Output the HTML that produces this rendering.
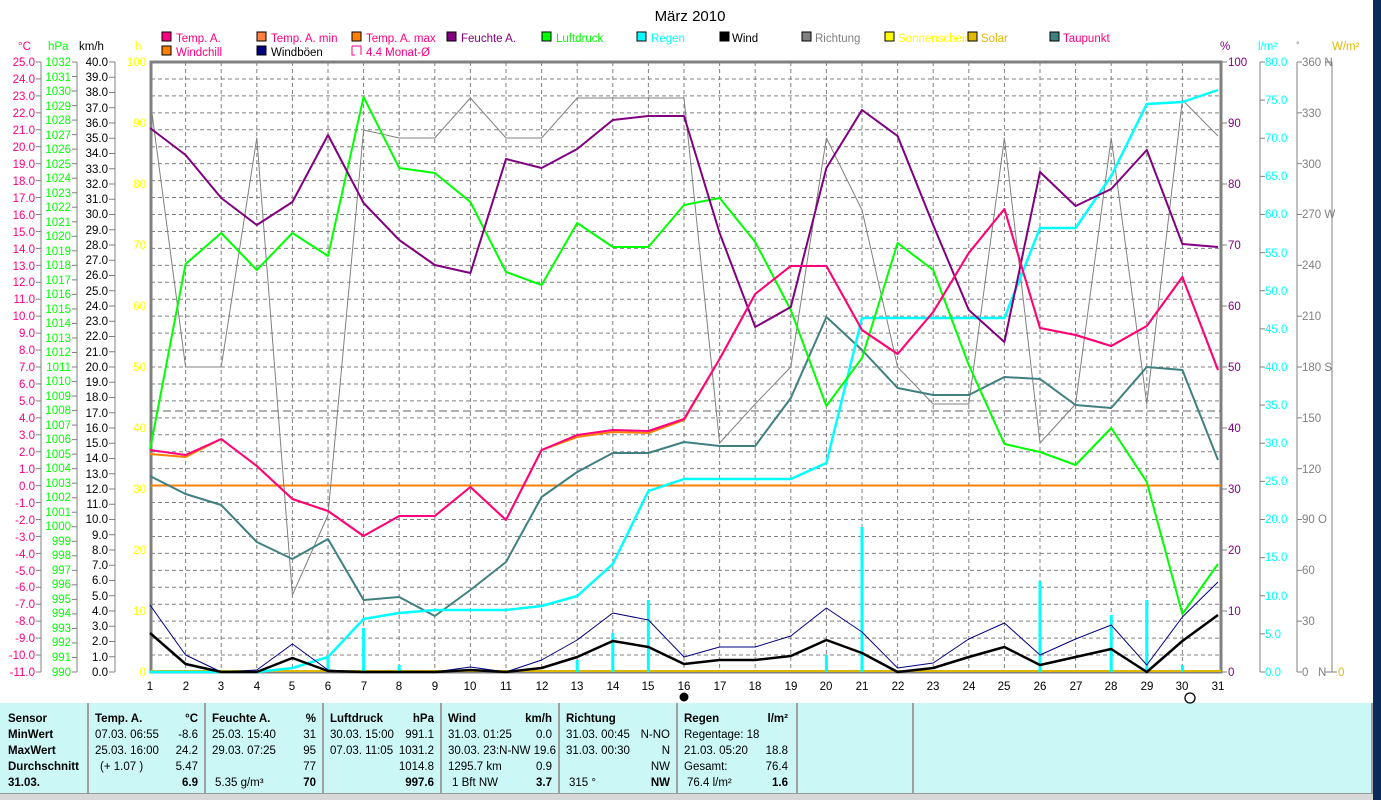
<!DOCTYPE html>
<html><head><meta charset="utf-8"><style>
html,body{margin:0;padding:0;background:#fff}
svg{display:block;font-family:"Liberation Sans",sans-serif;font-size:11.5px}
.b{font-weight:bold}
</style></head><body>
<svg id="s" width="1381" height="800" xmlns="http://www.w3.org/2000/svg">
<rect x="1373" y="0" width="8" height="800" fill="#0a2a5a"/>
<text x="690" y="21" font-size="15" text-anchor="middle">März 2010</text>
<g font-size="11.5">
<rect x="162" y="32" width="9" height="9" fill="#ff0080" stroke="#000"/><text x="176" y="42" fill="#ff0080">Temp. A.</text>
<rect x="257" y="32" width="9" height="9" fill="#ff8040" stroke="#000"/><text x="271" y="42" fill="#ff0080">Temp. A. min</text>
<rect x="352" y="32" width="9" height="9" fill="#ff8000" stroke="#000"/><text x="366" y="42" fill="#ff0080">Temp. A. max</text>
<rect x="447" y="32" width="9" height="9" fill="#800080" stroke="#000"/><text x="461" y="42" fill="#800080">Feuchte A.</text>
<rect x="542" y="32" width="9" height="9" fill="#00ff00" stroke="#000"/><text x="556" y="42" fill="#00ff00">Luftdruck</text>
<rect x="637" y="32" width="9" height="9" fill="#00ffff" stroke="#000"/><text x="651" y="42" fill="#00ffff">Regen</text>
<rect x="720" y="32" width="9" height="9" fill="#000" stroke="#000"/><text x="732" y="42" fill="#000">Wind</text>
<rect x="802" y="32" width="9" height="9" fill="#808080" stroke="#000"/><text x="815" y="42" fill="#808080">Richtung</text>
<rect x="885" y="32" width="9" height="9" fill="#ffff00" stroke="#000"/><text x="898" y="42" fill="#ffff00">Sonnenschein</text>
<rect x="968" y="32" width="9" height="9" fill="#e0b800" stroke="#000"/><text x="981" y="42" fill="#e0b800">Solar</text>
<rect x="1050" y="32" width="9" height="9" fill="#408080" stroke="#000"/><text x="1063" y="42" fill="#ff0080">Taupunkt</text>
<rect x="162" y="46" width="9" height="9" fill="#ff8000" stroke="#000"/><text x="176" y="56" fill="#ff0080">Windchill</text>
<rect x="257" y="46" width="9" height="9" fill="#000080" stroke="#000"/><text x="271" y="56" fill="#000">Windböen</text>
<path d="M352 46h9v9M352 46v9h3" fill="none" stroke="#ff0080"/><text x="366" y="56" fill="#ff0080">4.4 Monat-Ø</text>
</g>
<text x="18" y="50" fill="#ff0080">°C</text>
<text x="48" y="50" fill="#00ff00">hPa</text>
<text x="79" y="50" fill="#000">km/h</text>
<text x="135" y="50" fill="#ffff00">h</text>
<text x="1220" y="50" fill="#800080">%</text>
<text x="1258" y="50" fill="#00ffff">l/m²</text>
<text x="1296" y="48" fill="#808080" font-size="9">°</text>
<text x="1332" y="50" fill="#e0b800">W/m²</text>
<g id="axes"></g>
<g id="plot"></g>
<rect x="0" y="703" width="1373" height="90" fill="#ccf7f7"/>
<rect x="0" y="793" width="1373" height="7" fill="#d8d8d8"/>
<line x1="0" y1="793.5" x2="1373" y2="793.5" stroke="#999"/>
<g stroke="#a0a0a0" stroke-width="2">
<line x1="88" y1="703" x2="88" y2="793"/><line x1="205" y1="703" x2="205" y2="793"/><line x1="323" y1="703" x2="323" y2="793"/><line x1="441" y1="703" x2="441" y2="793"/><line x1="559" y1="703" x2="559" y2="793"/><line x1="677" y1="703" x2="677" y2="793"/><line x1="797" y1="703" x2="797" y2="793"/><line x1="913" y1="703" x2="913" y2="793"/><line x1="1372" y1="703" x2="1372" y2="793"/>
</g>
<g font-size="11.5">
<text x="8" y="722" class="b">Sensor</text><text x="8" y="738" class="b">MinWert</text><text x="8" y="754" class="b">MaxWert</text><text x="8" y="770" class="b">Durchschnitt</text><text x="8" y="786" class="b">31.03.</text>
<text x="95" y="722" class="b">Temp. A.</text><text x="198" y="722" class="b" text-anchor="end">°C</text>
<text x="95" y="738">07.03.  06:55</text><text x="198" y="738" text-anchor="end">-8.6</text>
<text x="95" y="754">25.03.  16:00</text><text x="198" y="754" text-anchor="end">24.2</text>
<text x="100" y="770">(+ 1.07 )</text><text x="198" y="770" text-anchor="end">5.47</text>
<text x="198" y="786" text-anchor="end" class="b">6.9</text>
<text x="212" y="722" class="b">Feuchte A.</text><text x="316" y="722" class="b" text-anchor="end">%</text>
<text x="212" y="738">25.03.  15:40</text><text x="316" y="738" text-anchor="end">31</text>
<text x="212" y="754">29.03.  07:25</text><text x="316" y="754" text-anchor="end">95</text>
<text x="316" y="770" text-anchor="end">77</text>
<text x="215" y="786">5.35 g/m³</text><text x="316" y="786" text-anchor="end" class="b">70</text>
<text x="330" y="722" class="b">Luftdruck</text><text x="434" y="722" class="b" text-anchor="end">hPa</text>
<text x="330" y="738">30.03.  15:00</text><text x="434" y="738" text-anchor="end">991.1</text>
<text x="330" y="754">07.03.  11:05</text><text x="434" y="754" text-anchor="end">1031.2</text>
<text x="434" y="770" text-anchor="end">1014.8</text>
<text x="434" y="786" text-anchor="end" class="b">997.6</text>
<text x="448" y="722" class="b">Wind</text><text x="552" y="722" class="b" text-anchor="end">km/h</text>
<text x="448" y="738">31.03.  01:25</text><text x="552" y="738" text-anchor="end">0.0</text>
<text x="448" y="754">30.03.  23:N-NW 19.6</text>
<text x="448" y="770">1295.7 km</text><text x="552" y="770" text-anchor="end">0.9</text>
<text x="452" y="786">1 Bft NW</text><text x="552" y="786" text-anchor="end" class="b">3.7</text>
<text x="566" y="722" class="b">Richtung</text>
<text x="566" y="738">31.03.  00:45</text><text x="670" y="738" text-anchor="end">N-NO</text>
<text x="566" y="754">31.03.  00:30</text><text x="670" y="754" text-anchor="end">N</text>
<text x="670" y="770" text-anchor="end">NW</text>
<text x="569" y="786">315 °</text><text x="670" y="786" text-anchor="end" class="b">NW</text>
<text x="684" y="722" class="b">Regen</text><text x="788" y="722" class="b" text-anchor="end">l/m²</text>
<text x="684" y="738">Regentage: 18</text>
<text x="684" y="754">21.03.  05:20</text><text x="788" y="754" text-anchor="end">18.8</text>
<text x="684" y="770">Gesamt:</text><text x="788" y="770" text-anchor="end">76.4</text>
<text x="687" y="786">76.4 l/m²</text><text x="788" y="786" text-anchor="end" class="b">1.6</text>
</g>
<g id="lab" font-size="11.5">
<g fill="#ff0080" text-anchor="end">
<text x="35" y="66">25.0</text><text x="35" y="83">24.0</text><text x="35" y="100">23.0</text><text x="35" y="117">22.0</text><text x="35" y="134">21.0</text><text x="35" y="151">20.0</text><text x="35" y="168">19.0</text><text x="35" y="185">18.0</text><text x="35" y="202">17.0</text><text x="35" y="219">16.0</text><text x="35" y="236">15.0</text><text x="35" y="253">14.0</text><text x="35" y="270">13.0</text><text x="35" y="286">12.0</text><text x="35" y="303">11.0</text><text x="35" y="320">10.0</text><text x="35" y="337">9.0</text><text x="35" y="354">8.0</text><text x="35" y="371">7.0</text><text x="35" y="388">6.0</text><text x="35" y="405">5.0</text><text x="35" y="422">4.0</text><text x="35" y="439">3.0</text><text x="35" y="456">2.0</text><text x="35" y="473">1.0</text><text x="35" y="490">0.0</text><text x="35" y="507">-1.0</text><text x="35" y="524">-2.0</text><text x="35" y="541">-3.0</text><text x="35" y="558">-4.0</text><text x="35" y="575">-5.0</text><text x="35" y="591">-6.0</text><text x="35" y="608">-7.0</text><text x="35" y="625">-8.0</text><text x="35" y="642">-9.0</text><text x="35" y="659">-10.0</text><text x="35" y="676">-11.0</text>
</g>
<g fill="#00ff00" text-anchor="end">
<text x="71" y="66">1032</text><text x="71" y="81">1031</text><text x="71" y="95">1030</text><text x="71" y="110">1029</text><text x="71" y="124">1028</text><text x="71" y="139">1027</text><text x="71" y="153">1026</text><text x="71" y="168">1025</text><text x="71" y="182">1024</text><text x="71" y="197">1023</text><text x="71" y="211">1022</text><text x="71" y="226">1021</text><text x="71" y="240">1020</text><text x="71" y="255">1019</text><text x="71" y="269">1018</text><text x="71" y="284">1017</text><text x="71" y="298">1016</text><text x="71" y="313">1015</text><text x="71" y="327">1014</text><text x="71" y="342">1013</text><text x="71" y="356">1012</text><text x="71" y="371">1011</text><text x="71" y="385">1010</text><text x="71" y="400">1009</text><text x="71" y="414">1008</text><text x="71" y="429">1007</text><text x="71" y="443">1006</text><text x="71" y="458">1005</text><text x="71" y="472">1004</text><text x="71" y="487">1003</text><text x="71" y="501">1002</text><text x="71" y="516">1001</text><text x="71" y="530">1000</text><text x="71" y="545">999</text><text x="71" y="559">998</text><text x="71" y="574">997</text><text x="71" y="588">996</text><text x="71" y="603">995</text><text x="71" y="617">994</text><text x="71" y="632">993</text><text x="71" y="646">992</text><text x="71" y="661">991</text><text x="71" y="676">990</text>
</g>
<g fill="#000" text-anchor="end">
<text x="108" y="66">40.0</text><text x="108" y="81">39.0</text><text x="108" y="96">38.0</text><text x="108" y="112">37.0</text><text x="108" y="127">36.0</text><text x="108" y="142">35.0</text><text x="108" y="157">34.0</text><text x="108" y="173">33.0</text><text x="108" y="188">32.0</text><text x="108" y="203">31.0</text><text x="108" y="218">30.0</text><text x="108" y="234">29.0</text><text x="108" y="249">28.0</text><text x="108" y="264">27.0</text><text x="108" y="279">26.0</text><text x="108" y="295">25.0</text><text x="108" y="310">24.0</text><text x="108" y="325">23.0</text><text x="108" y="340">22.0</text><text x="108" y="356">21.0</text><text x="108" y="371">20.0</text><text x="108" y="386">19.0</text><text x="108" y="401">18.0</text><text x="108" y="417">17.0</text><text x="108" y="432">16.0</text><text x="108" y="447">15.0</text><text x="108" y="462">14.0</text><text x="108" y="478">13.0</text><text x="108" y="493">12.0</text><text x="108" y="508">11.0</text><text x="108" y="523">10.0</text><text x="108" y="539">9.0</text><text x="108" y="554">8.0</text><text x="108" y="569">7.0</text><text x="108" y="584">6.0</text><text x="108" y="600">5.0</text><text x="108" y="615">4.0</text><text x="108" y="630">3.0</text><text x="108" y="645">2.0</text><text x="108" y="661">1.0</text><text x="108" y="676">0.0</text>
</g>
<g fill="#ffff00" text-anchor="end">
<text x="146" y="66">100</text><text x="146" y="127">90</text><text x="146" y="188">80</text><text x="146" y="249">70</text><text x="146" y="310">60</text><text x="146" y="371">50</text><text x="146" y="432">40</text><text x="146" y="493">30</text><text x="146" y="554">20</text><text x="146" y="615">10</text><text x="146" y="676">0</text>
</g>
<g fill="#800080">
<text x="1228" y="66">100</text><text x="1228" y="127">90</text><text x="1228" y="188">80</text><text x="1228" y="249">70</text><text x="1228" y="310">60</text><text x="1228" y="371">50</text><text x="1228" y="432">40</text><text x="1228" y="493">30</text><text x="1228" y="554">20</text><text x="1228" y="615">10</text><text x="1228" y="676">0</text>
</g>
<g fill="#00ffff">
<text x="1265" y="66">80.0</text><text x="1265" y="104">75.0</text><text x="1265" y="142">70.0</text><text x="1265" y="180">65.0</text><text x="1265" y="218">60.0</text><text x="1265" y="257">55.0</text><text x="1265" y="295">50.0</text><text x="1265" y="333">45.0</text><text x="1265" y="371">40.0</text><text x="1265" y="409">35.0</text><text x="1265" y="447">30.0</text><text x="1265" y="485">25.0</text><text x="1265" y="523">20.0</text><text x="1265" y="561">15.0</text><text x="1265" y="600">10.0</text><text x="1265" y="638">5.0</text><text x="1265" y="676">0.0</text>
</g>
<g fill="#808080">
<text x="1302" y="66">360 N</text><text x="1302" y="117">330</text><text x="1302" y="168">300</text><text x="1302" y="218">270 W</text><text x="1302" y="269">240</text><text x="1302" y="320">210</text><text x="1302" y="371">180 S</text><text x="1302" y="422">150</text><text x="1302" y="473">120</text><text x="1302" y="523">90 O</text><text x="1302" y="574">60</text><text x="1302" y="625">30</text><text x="1302" y="676">0</text><text x="1318" y="676">N</text>
</g>
<text x="1338" y="676" fill="#e0b800">0</text>
<g fill="#000" text-anchor="middle">
<text x="150" y="690">1</text><text x="186" y="690">2</text><text x="221" y="690">3</text><text x="257" y="690">4</text><text x="292" y="690">5</text><text x="328" y="690">6</text><text x="364" y="690">7</text><text x="399" y="690">8</text><text x="435" y="690">9</text><text x="470" y="690">10</text><text x="506" y="690">11</text><text x="542" y="690">12</text><text x="577" y="690">13</text><text x="613" y="690">14</text><text x="648" y="690">15</text><text x="684" y="690">16</text><text x="720" y="690">17</text><text x="755" y="690">18</text><text x="791" y="690">19</text><text x="826" y="690">20</text><text x="862" y="690">21</text><text x="898" y="690">22</text><text x="933" y="690">23</text><text x="969" y="690">24</text><text x="1004" y="690">25</text><text x="1040" y="690">26</text><text x="1076" y="690">27</text><text x="1111" y="690">28</text><text x="1147" y="690">29</text><text x="1182" y="690">30</text><text x="1218" y="690">31</text>
</g>
</g>
<circle cx="684" cy="697" r="4.5" fill="#000"/>
<circle cx="1190" cy="698" r="5" fill="none" stroke="#000" stroke-width="1.3"/>
</svg>
<script>
var NS="http://www.w3.org/2000/svg";
var A=document.getElementById("axes"),P=document.getElementById("plot");
function el(p,t,a){var e=document.createElementNS(NS,t);for(var k in a)e.setAttribute(k,a[k]);p.appendChild(e);return e;}
function X(d){return 150+(d-1)*35.6;}
for(var i=1;i<36;i++){var y=62+i*610/36;el(A,"line",{x1:151,x2:1221,y1:y,y2:y,stroke:"#808080","stroke-dasharray":"4,3"});}
for(var d=2;d<31;d++){el(A,"line",{x1:X(d),x2:X(d),y1:62,y2:672,stroke:"#808080","stroke-dasharray":"4,3"});}
function axis(x,n,y0,y1,tl,tr){el(A,"line",{x1:x,x2:x,y1:y0,y2:y1,stroke:"#808080"});for(var i=0;i<=n;i++){var y=y0+i*(y1-y0)/n;el(A,"line",{x1:x-tl,x2:x+tr,y1:y,y2:y,stroke:"#808080"});}}
axis(41,36,62,672,5,0);axis(77,42,62,672,5,0);axis(115,40,62,672,6,0);
axis(1260,16,62,672,0,5);axis(1297,12,62,672,0,5);
for(var i=0;i<=10;i++){var y=62+i*61;el(A,"line",{x1:1221,x2:1227,y1:y,y2:y,stroke:"#808080"});}
el(A,"line",{x1:1332,x2:1332,y1:62,y2:672,stroke:"#808080"});
el(A,"line",{x1:1325,x2:1337,y1:672,y2:672,stroke:"#808080"});
el(A,"line",{x1:1325,x2:1332,y1:62,y2:62,stroke:"#808080"});
el(A,"rect",{x:151,y:62,width:1070,height:610,fill:"none",stroke:"#808080","stroke-width":3});
el(P,"line",{x1:151,x2:1221,y1:411,y2:411,stroke:"#606060","stroke-dasharray":"8,4"});
el(P,"line",{x1:151,x2:1221,y1:485.5,y2:485.5,stroke:"#ff8000","stroke-width":2});
el(P,"line",{x1:151,x2:1221,y1:671,y2:671,stroke:"#e0b800","stroke-width":2});
[[6,657],[7,628],[8,665],[13,660],[14,633],[15,600],[20,655],[21,527],[26,581],[28,615],[29,600],[30,665]].forEach(function(b){el(P,"rect",{x:X(b[0])-1.5,y:b[1],width:3,height:672-b[1],fill:"#00ffff"});});
function line(v,c,w){var s=v.map(function(y,i){return X(i+1)+","+y;}).join(" ");el(P,"polyline",{points:s,fill:"none",stroke:c,"stroke-width":w,"stroke-linejoin":"round"});}
line([98,367,367,138,595,515,130,138,138,98,138,138,98,98,98,98,443,404,367,138,210,367,404,404,138,443,404,138,404,100,136],"#808080",1);
line([476,494,505,542,559,539,600,597,616,590,562,497,472,453,453,442,446,446,398,317,350,388,395,395,377,379,405,408,367,370,460],"#408080",2);
line([672,672,672,672,668,657,619,613,610,610,610,606,596,564,491,479,479,479,479,463,318,318,318,318,318,228,228,176,104,102,90],"#00ffff",2.5);
line([605,655,672,670,644,670,672,672,672,667,672,660,640,613,620,657,647,647,636,608,632,668,663,639,623,655,639,625,665,617,582],"#000080",1);
line([633,664,672,672,658,671,672,672,672,670,672,668,657,641,647,664,660,660,656,640,653,672,668,657,647,665,657,649,672,641,615],"#000",2.5);
line([450,264,233,270,233,256,97,168,173,202,272,285,223,247,247,205,198,242,310,406,358,243,270,365,444,452,465,428,482,614,564],"#00ff00",2);
line([128,155,198,225,202,135,203,240,265,273,159,168,149,120,116,116,233,327,307,168,110,136,225,310,342,172,206,189,150,244,247],"#800080",2);
var t=[450,455,439,466,499,511,536,516,516,487,520,450,435,430,431,419,359,294,266,266,330,354,312,253,209,328,335,346,326,277,370];
var off=[4,2,0,0,0,0,0,0,0,0,0,0,2,2,2,1,0,0,0,0,0,0,0,0,0,0,0,0,0,0,0];
line(t.map(function(y,i){return y+off[i];}),"#ff8000",2);
line(t,"#ff0080",2);
</script>
</body></html>
